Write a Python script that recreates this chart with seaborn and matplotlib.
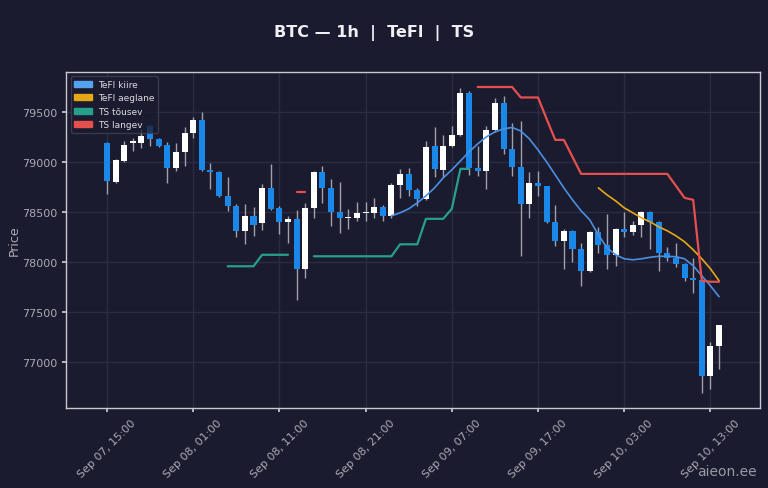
import pandas as pd
import numpy as np
import matplotlib
matplotlib.use('Agg')
import matplotlib.pyplot as plt
import matplotlib.dates as mdates
from matplotlib.patches import Patch
import seaborn as sns

# hourly BTC candles, Sep 07 15:00 -> Sep 10 14:00
times = pd.date_range('2025-09-07 15:00', periods=72, freq='h')

opens = [79190, 78800, 79010, 79190, 79190, 79360, 79230, 79170, 78935, 79100,
         79290, 79420, 78920, 78900, 78660, 78560, 78310, 78460, 78390, 78740,
         78540, 78400, 78430, 77930, 78540, 78900, 78735, 78495, 78435, 78440,
         78485, 78490, 78550, 78455, 78770, 78880, 78720, 78630, 79160, 78920,
         79160, 79270, 79690, 78935, 78910, 79320, 79590, 79130, 78945, 78580,
         78790, 78755, 78400, 78210, 78310, 78130, 77910, 78300, 78170, 78070,
         78330, 78300, 78365, 78500, 78400, 78090, 78035, 77980, 77835, 77820,
         76860, 77160]
highs = [79200, 79030, 79210, 79240, 79330, 79370, 79240, 79200, 79190, 79350,
         79450, 79500, 78990, 78910, 78850, 78580, 78580, 78550, 78780, 78980,
         78560, 78460, 78520, 78590, 78910, 78960, 78830, 78800, 78530, 78600,
         78600, 78640, 78570, 78790, 78930, 78940, 78740, 79210, 79350, 79270,
         79360, 79740, 79710, 79160, 79360, 79640, 79660, 79390, 79410, 78900,
         78910, 78760, 78570, 78330, 78320, 78190, 78310, 78350, 78480, 78340,
         78500, 78410, 78510, 78510, 78410, 78145, 78190, 77990, 78040, 77830,
         77200, 77370]
lows = [78680, 78790, 79000, 79110, 79140, 79160, 79150, 78790, 78910, 78960,
        79240, 78910, 78730, 78650, 78510, 78250, 78180, 78260, 78320, 78520,
        78280, 78190, 77620, 77840, 78440, 78590, 78360, 78290, 78330, 78410,
        78410, 78440, 78410, 78440, 78640, 78660, 78560, 78620, 78850, 78850,
        79150, 79260, 78870, 78860, 78730, 79300, 79080, 78860, 78060, 78440,
        78660, 78390, 78160, 77930, 78000, 77760, 77900, 78090, 77930, 77960,
        78245, 78265, 78245, 78130, 77910, 78010, 77950, 77810, 77690, 76690,
        76730, 76930]
closes = [78810, 79020, 79170, 79210, 79260, 79230, 79160, 78940, 79100, 79290,
          79420, 78920, 78900, 78660, 78560, 78310, 78460, 78370, 78740, 78530,
          78400, 78425, 77930, 78540, 78900, 78735, 78495, 78435, 78450, 78485,
          78500, 78550, 78455, 78770, 78880, 78720, 78630, 79150, 78930, 79160,
          79270, 79690, 78935, 78910, 79320, 79590, 79130, 78945, 78580, 78790,
          78755, 78400, 78210, 78310, 78130, 77910, 78300, 78170, 78070, 78330,
          78300, 78365, 78500, 78400, 78090, 78035, 77980, 77835, 77820, 76860,
          77160, 77365]

N = None
tefl_fast = [N]*33 + [78460, 78490, 78530, 78590, 78660, 78740, 78840, 78920, 79010, 79100,
                      79180, 79250, 79300, 79330, 79345, 79310, 79230, 79120, 79000, 78870,
                      78740, 78620, 78510, 78420, 78270, 78140, 78070, 78030, 78020, 78030,
                      78045, 78055, 78055, 78050, 78030, 77960, 77860, 77760, 77650]
tefl_slow = [N]*57 + [78740, 78670, 78610, 78540, 78490, 78440, 78400, 78350, 78310, 78260,
                      78200, 78120, 78030, 77930, 77810]
ts_up = ([N]*14 + [77955]*4 + [78070]*4 + [N]*2 + [78055]*10 + [78175]*3
         + [78430]*3 + [78530, 78930, 78930] + [N]*29)
ts_down = ([N]*22 + [78700]*2 + [N]*19 + [79750]*5 + [79645]*3
           + [79430, 79220, 79220, 79050] + [78880]*11 + [78760, 78640, 78620, 77810, 77800, 77800])

bg = '#1b1b2f'
sns.set_theme(style='dark', rc={
    'figure.facecolor': bg, 'axes.facecolor': bg, 'axes.edgecolor': '#c8c8d0',
    'grid.color': '#2b2c44', 'axes.grid': True, 'text.color': '#e8e8ee',
    'axes.labelcolor': '#aaaab4', 'xtick.color': '#aaaab4', 'ytick.color': '#aaaab4',
})
plt.rcParams['font.family'] = ['DejaVu Sans']

fig = plt.figure(figsize=(7.68, 4.89), dpi=100)
ax = fig.add_axes([66/768, 1 - 409.3/489, (760-66)/768, (409.3-72.7)/489])

df = pd.DataFrame({'time': times, 'open': opens, 'high': highs, 'low': lows, 'close': closes})
up = df['close'] >= df['open']
body_lo = df[['open', 'close']].min(axis=1)
body_h = (df['close'] - df['open']).abs().clip(lower=12)
w = 0.7 / 24

ax.vlines(df['time'], df['low'], df['high'], color='#a0a0ac', lw=1, zorder=1)
ax.bar(df['time'], body_h, bottom=body_lo, width=w,
       color=np.where(up, '#ffffff', '#1a88e8'), edgecolor='none', zorder=2)

# indicator lines, split into continuous segments
lines = {'TeFl kiire': (tefl_fast, '#4a90e2'), 'TeFl aeglane': (tefl_slow, '#e6a817'),
         'TS tõusev': (ts_up, '#26a08a'), 'TS langev': (ts_down, '#e5504f')}
for name, (vals, col) in lines.items():
    s = pd.Series(vals, dtype='float')
    seg = s.isna().cumsum()
    d = pd.DataFrame({'time': times, 'value': s, 'seg': seg}).dropna()
    sns.lineplot(data=d, x='time', y='value', units='seg', estimator=None,
                 color=col, lw=1.6 if name.startswith('TS') else 1.2, ax=ax, zorder=3)

ax.set_xlim(times[0] - pd.Timedelta(hours=4.75), times[-1] + pd.Timedelta(hours=4.75))
ax.set_ylim(76533, 79903)
ax.set_xticks(times[::10])
ax.xaxis.set_major_formatter(mdates.DateFormatter('%b %d, %H:%M'))
plt.setp(ax.get_xticklabels(), rotation=45, ha='center')
ax.tick_params(labelsize=8, length=3, color='#c8c8d0', bottom=True, left=True)
ax.set_xlabel('')
ax.set_ylabel('Price', fontsize=9, labelpad=1)
for sp in ax.spines.values():
    sp.set_color('#c8c8d0')
    sp.set_linewidth(1)

handles = [Patch(color=c, label=n) for n, (v, c) in lines.items()]
handles[0].set_color('#55a3f0')
leg = ax.legend(handles=handles, loc='upper left', fontsize=6.5, facecolor=bg,
                edgecolor='#444458', labelcolor='#dcdce4', framealpha=0.75,
                handletextpad=0.6)

fig.text(374.5/768, 1 - 33/489, 'BTC — 1h  |  TeFl  |  TS', ha='center', va='center',
         fontsize=11.5, fontweight='bold', color='#f0f0f4')
fig.text(757/768, 1 - 472/489, 'aieon.ee', ha='right', va='center', fontsize=10,
         color='#b8b8c4', alpha=0.8)

fig.savefig('out.png', dpi=100, facecolor=bg)
